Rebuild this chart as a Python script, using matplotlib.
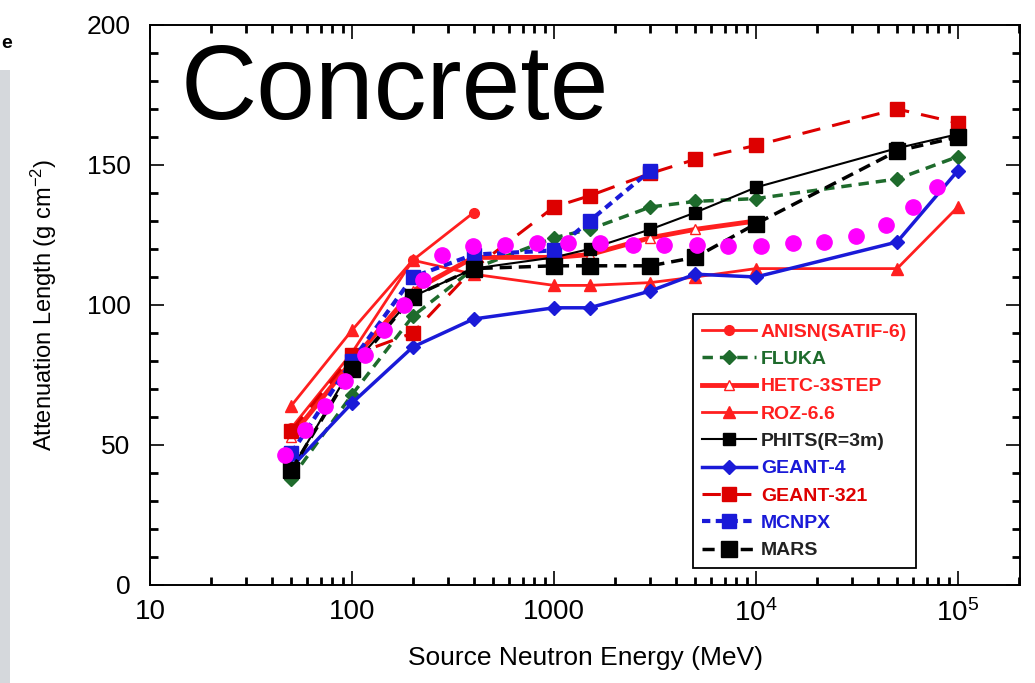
import numpy as np
import matplotlib
matplotlib.use("Agg")
import matplotlib.pyplot as plt
from matplotlib.patches import Rectangle

plt.rcParams["font.family"] = ["Liberation Sans", "DejaVu Sans"]
plt.rcParams["mathtext.fontset"] = "custom"
plt.rcParams["mathtext.rm"] = "Liberation Sans"
plt.rcParams["mathtext.it"] = "Liberation Sans:italic"
plt.rcParams["mathtext.bf"] = "Liberation Sans:bold"

# source neutron energies (MeV)
e_anisn = [50, 100, 200, 400]
anisn = [56, 83, 116, 133]

e_fluka = [50, 100, 200, 400, 1000, 1500, 3000, 5000, 10000, 50000, 100000]
fluka = [38, 68, 96, 113, 124, 127, 135, 137, 138, 145, 153]

e_hetc = [50, 100, 200, 400, 1000, 1500, 3000, 5000, 10000]
hetc = [53, 80, 105, 117, 117, 118, 124, 127, 130]

e_roz = [50, 100, 200, 400, 1000, 1500, 3000, 5000, 10000, 50000, 100000]
roz = [64, 91, 116, 111, 107, 107, 108, 110, 113, 113, 135]

e_phits = [50, 100, 200, 400, 1000, 1500, 3000, 5000, 10000, 50000, 100000]
phits = [41, 78, 103, 113, 117, 120, 127, 133, 142, 156, 161]

e_geant4 = [50, 100, 200, 400, 1000, 1500, 3000, 5000, 10000, 50000, 100000]
geant4 = [42, 65, 85, 95, 99, 99, 105, 111, 110, 122.5, 148]

e_geant321 = [50, 100, 200, 400, 1000, 1500, 3000, 5000, 10000, 50000, 100000]
geant321 = [55, 82, 90, 113, 135, 139, 147, 152, 157, 170, 165]

e_mcnpx = [50, 100, 200, 400, 1000, 1500, 3000]
mcnpx = [47, 80, 110, 118, 119.5, 130, 148]

e_mars = [50, 100, 200, 400, 1000, 1500, 3000, 5000, 10000, 50000, 100000]
mars = [41, 77, 103, 113, 114, 114, 114, 117, 129, 155, 160]

# magenta dots (no legend entry)
e_dots = [46.6, 58.5, 73.5, 92, 116, 144, 181, 225, 279, 397, 572, 823, 1172,
          1690, 2460, 3508, 5104, 7267, 10590, 15250, 21720, 31270, 44020,
          59870, 78700]
dots = [46.4, 55.4, 64, 73, 82, 91, 100, 109, 118, 121, 121.4, 122, 122, 122,
        121.4, 121.4, 121.4, 121, 121, 122, 122.5, 124.6, 128.6, 135, 142]

RED = "#ff1f1f"
DRED = "#dd0000"
GREEN = "#1e6b2c"
BLUE = "#1a1ad8"

fig = plt.figure(figsize=(10.35, 6.83), dpi=100)
ax = fig.add_axes([0.145, 0.1435, 0.8405, 0.8199])

# slide remnants on the left
fig.patches.append(Rectangle((0, 0), 0.010, 0.897, transform=fig.transFigure,
                             facecolor="#d5d8dc", edgecolor="none", zorder=0))
fig.text(0.001, 0.937, "e", fontsize=14, fontweight="bold", ha="left", va="center")

ax.plot(e_anisn, anisn, color=RED, lw=2.0, marker="o", ms=7, label="ANISN(SATIF-6)")
ax.plot(e_fluka, fluka, color=GREEN, lw=2.5, ls=(0, (3, 2)), marker="D", ms=7,
        label="FLUKA")
ax.plot(e_hetc, hetc, color=RED, lw=3.5, marker="^", ms=7, mfc="white", mec=RED,
        label="HETC-3STEP")
ax.plot(e_roz, roz, color=RED, lw=2.0, marker="^", ms=9, label="ROZ-6.6")
ax.plot(e_phits, phits, color="black", lw=1.5, marker="s", ms=9, label="PHITS(R=3m)")
ax.plot(e_geant4, geant4, color=BLUE, lw=2.5, marker="D", ms=7, label="GEANT-4")
ax.plot(e_geant321, geant321, color=DRED, lw=2.2, ls=(0, (6, 4)), marker="s", ms=10,
        label="GEANT-321")
ax.plot(e_mcnpx, mcnpx, color=BLUE, lw=3.0, ls=(0, (2, 1.3)), marker="s", ms=10,
        label="MCNPX")
ax.plot(e_mars, mars, color="black", lw=2.5, ls=(0, (3.5, 2)), marker="s", ms=12,
        label="MARS")
ax.plot(e_dots, dots, ls="none", marker="o", ms=11, color="#ff00ff", zorder=5)

ax.set_xscale("log")
ax.set_xlim(10, 2.03e5)
ax.set_ylim(0, 200)
ax.set_yticks([0, 50, 100, 150, 200])
ax.set_yticks(np.arange(0, 201, 10), minor=True)
ax.set_xticks([10, 100, 1000, 1e4, 1e5])
ax.set_xticklabels(["10", "100", "1000", "$10^4$", "$10^5$"])
ax.tick_params(which="both", direction="in", top=True, right=True)
ax.tick_params(which="major", length=10, width=1.2)
ax.tick_params(which="minor", length=6, width=2)
ax.tick_params(axis="x", which="major", labelsize=20, pad=10)
ax.tick_params(axis="y", which="major", labelsize=19, pad=14)
for s in ax.spines.values():
    s.set_linewidth(1.4)

ax.set_xlabel("Source Neutron Energy (MeV)", fontsize=19, labelpad=14)
ax.set_ylabel("Attenuation Length (g cm$^{-2}$)", fontsize=17, labelpad=20)

ax.text(0.035, 0.97, "Concrete", transform=ax.transAxes, fontsize=76,
        va="top", ha="left")

text_colors = [RED, GREEN, RED, RED, "#222222", BLUE, DRED, BLUE, "#222222"]
leg = ax.legend(loc="lower left", bbox_to_anchor=(0.624, 0.03),
                prop={"weight": "bold", "size": 14}, labelcolor=text_colors,
                fancybox=False, edgecolor="black", framealpha=1,
                handlelength=2.8, handletextpad=0.25, labelspacing=0.5,
                borderaxespad=0, borderpad=0.45)
leg.get_frame().set_linewidth(1.3)

plt.savefig("out.png", dpi=100)
